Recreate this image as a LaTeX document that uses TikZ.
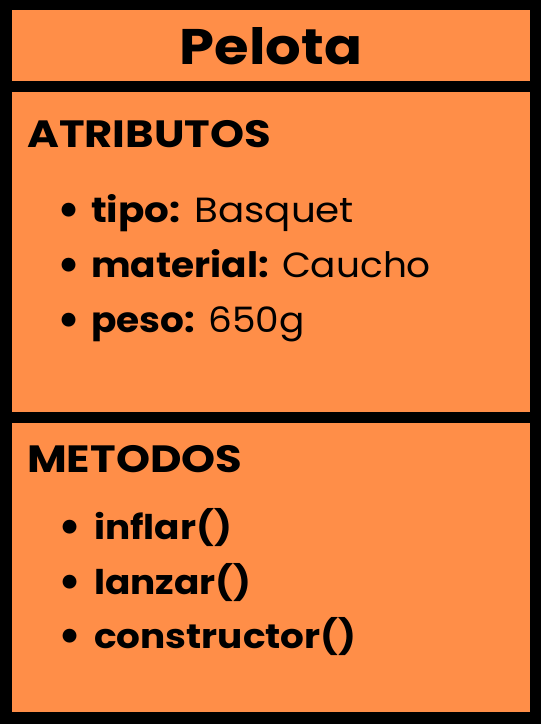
\documentclass[tikz,border=0pt]{standalone}
\usepackage{fontspec}
\setmainfont{Poppins}
\definecolor{boxorange}{RGB}{255,142,72}
\tikzset{
  panel/.style={fill=boxorange, draw=none, anchor=north west, inner sep=0pt, minimum width=518pt},
  txt/.style={anchor=base west, inner sep=0pt, text=black},
  bul/.style={anchor=base, inner sep=0pt, text=black, font=\fontsize{46}{46}\selectfont\bfseries},
  head/.style={txt, font=\fontsize{38}{44}\selectfont\bfseries},
  attr/.style={txt, font=\fontsize{35}{40}\selectfont},
  meth/.style={txt, font=\fontsize{34}{40}\selectfont\bfseries}
}
\newcommand{\hs}[2]{\scalebox{#1}[1]{#2}}
\begin{document}
\begin{tikzpicture}[x=1pt,y=-1pt]
\fill[black] (0,0) rectangle (541,724);
\useasboundingbox (0,0) rectangle (541,724);
\node[panel, minimum height=71pt] (titlebox) at (12,10) {};
\node[panel, minimum height=320pt] (attrbox) at (12,92) {};
\node[panel, minimum height=289pt] (methbox) at (12,423) {};
\node[anchor=base, inner sep=0pt, font=\fontsize{50}{56}\selectfont\bfseries] (title) at (271,64) {\hs{1.12}{Pelota}};
\node[head] (atrib) at (27,147) {\hs{1.14}{ATRIBUTOS}};
\node[bul] (b1) at (69,225) {•};
\node[attr] (a1) at (91,222) {\hs{1.11}{\textbf{tipo:} Basquet}};
\node[bul] (b2) at (69,280) {•};
\node[attr] (a2) at (91,277) {\hs{1.07}{\textbf{material:} Caucho}};
\node[bul] (b3) at (69,335) {•};
\node[attr] (a3) at (91,332) {\hs{1.07}{\textbf{peso:} 650g}};
\node[head] (metod) at (27,472) {\hs{1.14}{METODOS}};
\node[bul] (c1) at (70,542) {•};
\node[meth] (m1) at (94,539) {\hs{1.1}{inflar()}};
\node[bul] (c2) at (70,597) {•};
\node[meth] (m2) at (94,594) {\hs{1.1}{lanzar()}};
\node[bul] (c3) at (70,651) {•};
\node[meth] (m3) at (94,648) {\hs{1.1}{constructor()}};
\end{tikzpicture}
\end{document}
